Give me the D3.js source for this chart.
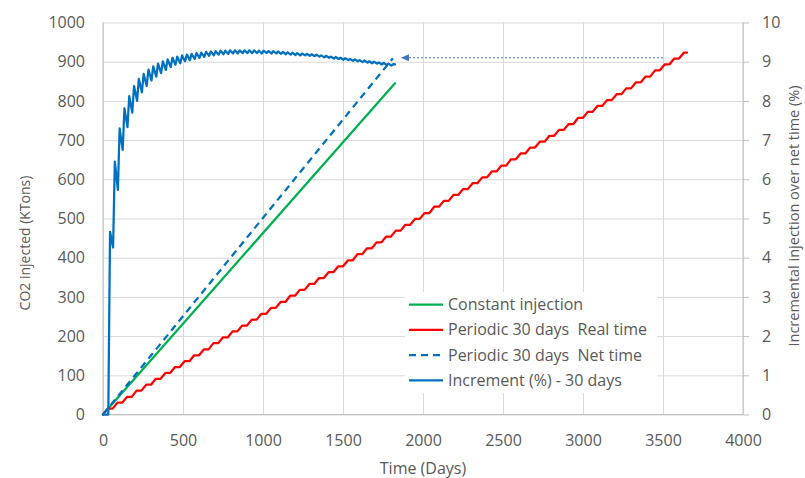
<!DOCTYPE html>
<html>
<head>
<meta charset="utf-8">
<script src="https://cdn.jsdelivr.net/npm/d3@7/dist/d3.min.js"></script>
<style>
  html, body { margin: 0; padding: 0; background: #fff; }
  svg { display: block; font-family: "Open Sans", "Liberation Sans", sans-serif; }
  .tick text { fill: #595959; }
</style>
</head>
<body>
<svg id="chart" width="805" height="478"></svg>
<script>
// Time axis ticks and value axis ticks
const xTicks = [0, 500, 1000, 1500, 2000, 2500, 3000, 3500, 4000];
const yLeftTicks = [0, 100, 200, 300, 400, 500, 600, 700, 800, 900, 1000];
const yRightTicks = [0, 1, 2, 3, 4, 5, 6, 7, 8, 9, 10];

// Constant injection (KTons vs days)
const constantDays = [0, 1825];
const constantValues = [0, 845];

// Periodic 30 days, cumulative over net injection time (KTons vs days)
const netDays = [0, 1812];
const netValues = [0, 909];

// Periodic 30 days, real time: cumulative level reached at the end of each 30-day injection
// window; each window is followed by a 30-day shut-in period
const cycleLength = 30;
const realTimeEnd = 3650;
const periodicLevels = [
  15, 30, 45, 61, 76, 91, 106, 121, 136, 151,
  166, 182, 197, 212, 227, 242, 257, 272, 287, 303,
  318, 333, 348, 363, 378, 393, 409, 424, 439, 454,
  469, 484, 499, 514, 530, 545, 560, 575, 590, 605,
  620, 635, 651, 666, 681, 696, 711, 726, 741, 757,
  772, 787, 802, 817, 832, 847, 862, 878, 893, 908,
  923
];

// Increment (%) over net time: low and high point of each 30-day cycle
const incrementLows = [
  0, 4.26, 5.73, 6.75, 7.33, 7.70, 8.00, 8.22, 8.38, 8.52,
  8.62, 8.71, 8.79, 8.86, 8.92, 8.96, 9.01, 9.04, 9.07, 9.10,
  9.12, 9.15, 9.16, 9.18, 9.19, 9.20, 9.21, 9.21, 9.22, 9.22,
  9.22, 9.22, 9.21, 9.22, 9.21, 9.21, 9.20, 9.19, 9.18, 9.17,
  9.16, 9.16, 9.15, 9.14, 9.13, 9.11, 9.10, 9.08, 9.07, 9.05,
  9.04, 9.02, 9.01, 8.99, 8.98, 8.96, 8.95, 8.93, 8.92, 8.90
];
const incrementHighs = [
  4.66, 6.45, 7.30, 7.81, 8.12, 8.38, 8.56, 8.69, 8.80, 8.88,
  8.95, 9.01, 9.06, 9.10, 9.13, 9.16, 9.18, 9.20, 9.22, 9.23,
  9.25, 9.26, 9.27, 9.28, 9.28, 9.29, 9.29, 9.29, 9.29, 9.29,
  9.29, 9.28, 9.28, 9.27, 9.27, 9.26, 9.25, 9.24, 9.23, 9.22,
  9.21, 9.20, 9.19, 9.18, 9.16, 9.15, 9.13, 9.12, 9.10, 9.09,
  9.07, 9.06, 9.04, 9.03, 9.01, 9.00, 8.98, 8.97, 8.95, 8.94
];
const incrementLowOffset = 33;  // day of the first low point
const incrementHighOffset = 44; // day of the first high point
const incrementEnd = [1825, 8.93];

// Annotation arrow (days, KTons)
const arrowFrom = [3500, 910];
const arrowTo = [1862, 910];

const legendLabels = [
  "Constant injection",
  "Periodic 30 days  Real time",
  "Periodic 30 days  Net time",
  "Increment (%) - 30 days"
];

const colors = { green: "#00B050", red: "#FF0000", blue: "#0070C0", arrow: "#4472C4" };
const fontSize = 16;

const svg = d3.select("#chart");
const plot = { left: 103, right: 743, top: 22.5, bottom: 414.5 };

const x = d3.scaleLinear().domain([0, 4000]).range([plot.left, plot.right]);
const yL = d3.scaleLinear().domain([0, 1000]).range([plot.bottom, plot.top]);
const yR = d3.scaleLinear().domain([0, 10]).range([plot.bottom, plot.top]);

// Gridlines
svg.append("g")
  .attr("transform", `translate(0,${plot.bottom})`)
  .call(d3.axisBottom(x).tickValues(xTicks).tickSize(-(plot.bottom - plot.top)).tickFormat(""))
  .call(g => g.select(".domain").remove())
  .call(g => g.selectAll("line").attr("stroke", "#d9d9d9").attr("stroke-width", 1));
svg.append("g")
  .attr("transform", `translate(${plot.left},0)`)
  .call(d3.axisLeft(yL).tickValues(yLeftTicks).tickSize(-(plot.right - plot.left)).tickFormat(""))
  .call(g => g.select(".domain").remove())
  .call(g => g.selectAll("line").attr("stroke", "#d9d9d9").attr("stroke-width", 1));

// Axis lines
svg.append("line").attr("x1", plot.left).attr("x2", plot.right)
  .attr("y1", plot.bottom).attr("y2", plot.bottom).attr("stroke", "#bfbfbf");
svg.append("line").attr("x1", plot.left).attr("x2", plot.left)
  .attr("y1", plot.top).attr("y2", plot.bottom).attr("stroke", "#bfbfbf");

// Left axis labels
svg.append("g")
  .attr("transform", `translate(${plot.left},0)`)
  .call(d3.axisLeft(yL).tickValues(yLeftTicks).tickSize(0).tickPadding(18).tickFormat(d3.format("d")))
  .call(g => g.select(".domain").remove())
  .call(g => g.selectAll("text").attr("font-size", fontSize).attr("font-family", "Open Sans"));

// Bottom axis labels
svg.append("g")
  .attr("transform", `translate(0,${plot.bottom})`)
  .call(d3.axisBottom(x).tickValues(xTicks).tickSize(0).tickPadding(20).tickFormat(d3.format("d")))
  .call(g => g.select(".domain").remove())
  .call(g => g.selectAll("text").attr("font-size", fontSize).attr("font-family", "Open Sans"));

// Right axis with outward ticks
svg.append("g")
  .attr("transform", `translate(${plot.right},0)`)
  .call(d3.axisRight(yR).tickValues(yRightTicks).tickSize(6).tickPadding(13).tickFormat(d3.format("d")))
  .call(g => g.select(".domain").attr("stroke", "#bfbfbf").attr("d", `M0,${plot.top}V${plot.bottom}`))
  .call(g => g.selectAll("line").attr("stroke", "#bfbfbf"))
  .call(g => g.selectAll("text").attr("font-size", fontSize).attr("font-family", "Open Sans"));

// Axis titles
svg.append("text").text("CO2 injected (KTons)")
  .attr("transform", "translate(30,243) rotate(-90)")
  .attr("text-anchor", "middle").attr("font-size", 14).attr("fill", "#595959");
svg.append("text").text("Incremental injection over net time (%)")
  .attr("transform", "translate(799,216) rotate(-90)")
  .attr("text-anchor", "middle").attr("font-size", 14.5).attr("fill", "#595959");
svg.append("text").text("Time (Days)")
  .attr("x", (plot.left + plot.right) / 2).attr("y", 474)
  .attr("text-anchor", "middle").attr("font-size", fontSize).attr("fill", "#595959");

// Series geometry
const constantPts = constantDays.map((d, i) => [d, constantValues[i]]);
const netPts = netDays.map((d, i) => [d, netValues[i]]);

const realPts = [[0, 0]];
periodicLevels.forEach((lvl, k) => {
  const start = 2 * cycleLength * k;
  realPts.push([start + cycleLength, lvl]);
  const flatEnd = Math.min(start + 2 * cycleLength, realTimeEnd);
  realPts.push([flatEnd, lvl]);
});

const incrementPts = [[0, 0]];
incrementLows.forEach((lo, k) => {
  incrementPts.push([cycleLength * k + incrementLowOffset, lo]);
  incrementPts.push([cycleLength * k + incrementHighOffset, incrementHighs[k]]);
});
incrementPts.push(incrementEnd);

const lineL = d3.line().x(d => x(d[0])).y(d => yL(d[1]));
const lineR = d3.line().x(d => x(d[0])).y(d => yR(d[1]));

const series = svg.append("g").attr("fill", "none")
  .attr("stroke-linejoin", "round").attr("stroke-linecap", "round");
series.append("path").attr("d", lineL(constantPts))
  .attr("stroke", colors.green).attr("stroke-width", 2.25);
series.append("path").attr("d", lineL(realPts))
  .attr("stroke", colors.red).attr("stroke-width", 2.25);
series.append("path").attr("d", lineL(netPts))
  .attr("stroke", colors.blue).attr("stroke-width", 2.25)
  .attr("stroke-dasharray", "7,5").attr("stroke-linecap", "butt");
series.append("path").attr("d", lineR(incrementPts))
  .attr("stroke", colors.blue).attr("stroke-width", 2.25);

// Annotation arrow
const ax0 = x(arrowFrom[0]), ax1 = x(arrowTo[0]), ay = yL(arrowFrom[1]);
svg.append("line").attr("x1", ax0).attr("x2", ax1 + 7).attr("y1", ay).attr("y2", ay)
  .attr("stroke", colors.arrow).attr("stroke-width", 1).attr("stroke-dasharray", "2,2");
svg.append("path")
  .attr("d", `M${ax1},${ay}L${ax1 + 8},${ay - 3.5}L${ax1 + 8},${ay + 3.5}Z`)
  .attr("fill", colors.arrow);

// Legend
const legend = svg.append("g");
legend.append("rect").attr("x", 405).attr("y", 292).attr("width", 252).attr("height", 101).attr("fill", "#fff");
const legendStyles = [
  { color: colors.green, dash: null },
  { color: colors.red, dash: null },
  { color: colors.blue, dash: "7,5" },
  { color: colors.blue, dash: null }
];
legendLabels.forEach((label, i) => {
  const cy = 304.5 + i * 25.3;
  const l = legend.append("line").attr("x1", 409).attr("x2", 443).attr("y1", cy).attr("y2", cy)
    .attr("stroke", legendStyles[i].color).attr("stroke-width", 2.25);
  if (legendStyles[i].dash) l.attr("stroke-dasharray", legendStyles[i].dash);
  legend.append("text").text(label).attr("x", 448).attr("y", cy).attr("dy", "0.35em")
    .attr("font-size", fontSize).attr("fill", "#595959").style("white-space", "pre");
});
</script>
</body>
</html>
